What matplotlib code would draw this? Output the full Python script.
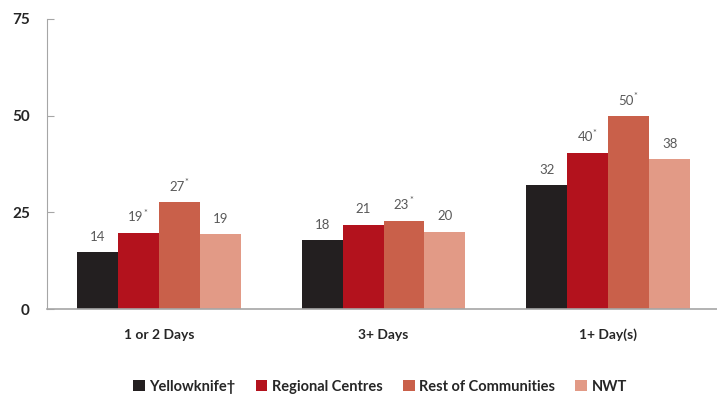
import numpy as np
import matplotlib
matplotlib.use("Agg")
import matplotlib.pyplot as plt

# -----------------------------
# Data
# -----------------------------
categories = ["1 or 2 Days", "3+ Days", "1+ Day(s)"]
series_names = ["Yellowknife\u2020", "Regional Centres", "Rest of Communities", "NWT"]
yellowknife = [14.7, 17.8, 32.0]
regional = [19.7, 21.7, 40.3]
rest = [27.6, 22.9, 49.8]
nwt = [19.3, 19.9, 38.7]
yellowknife_lbl = ["14", "18", "32"]
regional_lbl = ["19*", "21", "40*"]
rest_lbl = ["27*", "23*", "50*"]
nwt_lbl = ["19", "20", "38"]
colors = ["#231f20", "#b3121d", "#c9604a", "#e29a86"]
yticks = [0, 25, 50, 75]

plt.rcParams['font.family'] = ['Lato', 'DejaVu Sans']

fig = plt.figure(figsize=(7.17, 4.01), dpi=100)
ax = fig.add_axes([0.065, 0.229, 0.94, 0.724])

x = np.arange(len(categories))
width = 0.182
offsets = [-1.5, -0.5, 0.5, 1.5]
all_vals = [yellowknife, regional, rest, nwt]
all_lbls = [yellowknife_lbl, regional_lbl, rest_lbl, nwt_lbl]

for vals, lbls, col, off, name in zip(all_vals, all_lbls, colors, offsets, series_names):
    bars = ax.bar(x + off * width, vals, width, color=col, label=name)
    for b, v, l in zip(bars, vals, lbls):
        cx = b.get_x() + b.get_width() / 2
        star = l.endswith("*")
        num = l.rstrip("*")
        ax.annotate(num, (cx, v), xytext=(-2 if star else 0, 7), textcoords="offset points",
                    ha="center", va="bottom", fontsize=9.5, color="#595959")
        if star:
            ax.annotate("*", (cx, v), xytext=(5, 11), textcoords="offset points",
                        ha="center", va="bottom", fontsize=6.5, color="#595959")

ax.set_ylim(0, 75)
ax.set_xlim(-0.5, 2.5)
ax.set_yticks(yticks)
ax.set_xticks(x)
ax.set_xticklabels(categories, fontsize=10, fontweight="bold", color="#262626")
for t in ax.get_yticklabels():
    t.set_fontweight("bold")
ax.tick_params(axis="y", direction="in", length=5, color="#a6a6a6", labelsize=11,
               labelcolor="#262626", pad=12)
ax.tick_params(axis="x", length=0, pad=14)

for s in ["top", "right"]:
    ax.spines[s].set_visible(False)
ax.spines["left"].set_color("#a6a6a6")
ax.spines["bottom"].set_color("#a6a6a6")
ax.spines["bottom"].set_linewidth(1.2)

leg = fig.legend(loc="lower center", bbox_to_anchor=(0.53, -0.015), ncol=4, frameon=False,
                 handlelength=0.8, handleheight=0.8, handletextpad=0.3, columnspacing=1.4,
                 prop={"size": 10.5, "weight": "bold"})
for t in leg.get_texts():
    t.set_color("#262626")

fig.savefig("out.png", dpi=100)
